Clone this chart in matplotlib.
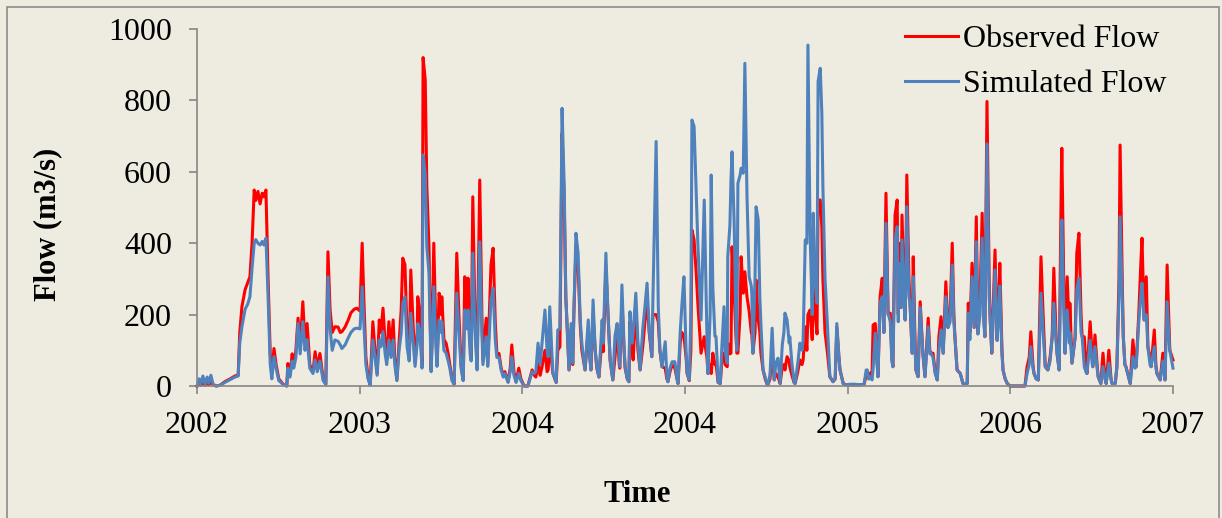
import matplotlib
matplotlib.use("Agg")
import matplotlib.pyplot as plt
from matplotlib.patches import Rectangle
import numpy as np

plt.rcParams['font.family'] = ['Liberation Serif', 'DejaVu Serif']

# days since 2002-01-01
day = [
    0, 4, 7, 11, 15, 19, 22, 26, 30, 36, 43, 52, 62, 71, 77, 80, 84, 90, 95, 99,
    103, 107, 110, 114, 118, 122, 125, 129, 133, 137, 140, 144, 148, 153, 161, 168, 170, 174, 178, 181,
    185, 189, 193, 198, 202, 206, 211, 217, 221, 225, 230, 236, 241, 245, 249, 253, 258, 264, 268, 271,
    277, 283, 288, 294, 299, 305, 309, 312, 316, 320, 324,
    329, 333, 337, 341, 344, 348, 352, 355, 359, 363, 367, 370, 374, 378, 382, 385, 389, 393, 397, 400,
    404, 408, 412, 413, 417, 421, 423, 427, 430, 434, 438, 440, 443, 447, 449, 453, 457, 458, 462, 466,
    470, 473, 477, 481, 486, 490, 494, 498, 501, 505, 507, 511, 513, 516, 520, 524, 529, 533, 535, 541,
    544, 550, 554, 558, 561, 565, 569, 573, 576, 582, 586, 589, 593, 597, 602, 606, 612, 619, 627,
    631, 634, 638, 642, 645, 651, 655, 657, 660, 664, 666, 672, 675, 679, 683, 687, 690, 692, 696, 700,
    703, 705, 709, 713, 717, 720, 722, 726, 732, 735, 737, 741, 745, 748, 752, 758, 760, 765, 769, 773,
    778, 782, 786, 790, 791, 795, 799, 801, 805, 808, 810, 814, 816, 821, 825, 829, 834, 838, 842, 846,
    851, 853, 859, 863, 866, 870, 876, 879, 881, 885, 889, 894, 898, 900, 904, 907, 911, 915, 917, 921,
    924, 926, 930, 934, 937, 943,
    949, 952, 954, 956, 960, 962, 965, 969, 971, 975, 979, 982, 986, 988, 992, 993, 997, 999, 1001, 1005,
    1008, 1010, 1012, 1016, 1018, 1022, 1025, 1029, 1033, 1037, 1038, 1040, 1044, 1046, 1050, 1053, 1055, 1059, 1063, 1066,
    1068, 1072, 1076, 1080, 1083, 1087, 1091, 1095, 1098, 1100, 1104, 1108, 1109, 1113, 1117, 1119, 1124, 1128, 1132, 1134,
    1138, 1141, 1143, 1147, 1151, 1153, 1156, 1160, 1162, 1166, 1169, 1171, 1175, 1179, 1184, 1190, 1194, 1197, 1201, 1203,
    1209, 1214, 1222, 1231, 1240, 1248, 1252, 1254, 1257, 1259,
    1263, 1265, 1269, 1272, 1274, 1278, 1282, 1285, 1289, 1293, 1297, 1300, 1302, 1306, 1310, 1312, 1313, 1317, 1319, 1323,
    1325, 1328, 1332, 1334, 1338, 1340, 1343, 1345, 1349, 1353, 1356, 1358, 1362, 1368, 1371, 1373, 1377, 1381, 1385, 1388,
    1392, 1396, 1401, 1405, 1409, 1413, 1416, 1418, 1422, 1428, 1433, 1441, 1443, 1446, 1450, 1454, 1458, 1461, 1465, 1469,
    1472, 1474, 1478, 1482, 1484, 1487, 1493, 1497, 1499, 1502, 1506, 1508, 1512, 1516, 1521, 1530, 1540, 1549, 1553, 1557,
    1560, 1564, 1566, 1570, 1574, 1579,
    1583, 1587, 1592, 1596, 1600, 1603, 1607, 1609, 1613, 1617, 1618, 1622, 1624, 1628, 1632, 1633, 1637, 1643, 1646, 1650,
    1654, 1656, 1660, 1663, 1665, 1671, 1675, 1676, 1680, 1684, 1686, 1691, 1695, 1699, 1701, 1706, 1710, 1712, 1718, 1721,
    1725, 1727, 1731, 1733, 1736, 1738, 1746, 1751, 1755, 1757, 1762, 1766, 1768, 1772, 1776, 1779, 1783, 1785, 1791, 1794,
    1796, 1802, 1807, 1811, 1815, 1819, 1820, 1826,
]

observed = [
    0, 5, 2, 8, 2, 10, 3, 12, 3, 0, 2, 12, 20, 28, 30, 150, 222, 270, 290, 306,
    400, 549, 520, 545, 510, 540, 530, 549, 300, 90, 40, 105, 60, 20, 5, 0, 63, 30, 90, 60,
    100, 190, 110, 236, 120, 175, 60, 40, 96, 50, 91, 20, 5, 376, 213, 150, 166, 165, 150, 152,
    165, 185, 205, 215, 218, 210, 400, 250, 80, 25, 3,
    180, 100, 35, 185, 150, 218, 120, 73, 180, 100, 185, 80, 17, 120, 213, 358, 340, 150, 82, 325,
    180, 64, 150, 250, 204, 60, 920, 857, 558, 390, 45, 150, 400, 150, 64, 260, 200, 250, 130, 120,
    90, 60, 20, 5, 372, 200, 60, 17, 306, 200, 302, 120, 82, 530, 200, 54, 577, 200, 73, 190,
    64, 339, 386, 180, 92, 91, 50, 30, 40, 12, 50, 115, 40, 12, 50, 20, 0, 0, 45,
    30, 25, 64, 30, 50, 100, 40, 45, 130, 60, 35, 10, 100, 110, 708, 520, 250, 180, 45, 160,
    60, 200, 390, 340, 170, 100, 82, 45, 160, 80, 45, 200, 100, 50, 25, 140, 96, 330, 200, 70,
    17, 80, 160, 60, 50, 240, 100, 50, 20, 12, 180, 100, 73, 220, 100, 45, 110, 180, 240, 150,
    82, 200, 200, 180, 100, 54, 50, 20, 12, 40, 60, 50, 20, 7, 120, 150, 140, 80, 35, 15,
    100, 437, 409, 316, 232, 92,
    138, 100, 82, 35, 60, 35, 92, 60, 64, 10, 7, 73, 92, 60, 54, 120, 90, 92, 390, 260,
    150, 92, 92, 200, 362, 260, 320, 250, 210, 150, 146, 92, 150, 297, 185, 150, 92, 45, 20, 7,
    3, 20, 92, 17, 35, 26, 7, 54, 60, 45, 82, 70, 54, 30, 10, 7, 40, 73, 60, 73,
    166, 100, 200, 213, 130, 288, 210, 146, 521, 521, 446, 300, 150, 100, 26, 12, 20, 165, 80, 45,
    7, 3, 3, 3, 3, 5, 30, 40, 20, 35,
    40, 171, 175, 80, 26, 250, 302, 150, 540, 200, 204, 80, 54, 479, 521, 200, 400, 220, 479, 250,
    185, 591, 300, 230, 92, 362, 150, 45, 26, 236, 150, 92, 26, 190, 100, 92, 92, 40, 17, 138,
    194, 92, 292, 164, 200, 400, 200, 138, 45, 35, 7, 7, 232, 150, 344, 164, 474, 146, 250, 484,
    200, 138, 797, 300, 185, 92, 381, 128, 200, 344, 100, 45, 20, 7, 0, 0, 0, 0, 54, 80,
    152, 60, 35, 20, 17, 362,
    200, 54, 45, 80, 138, 330, 150, 92, 45, 577, 666, 250, 92, 306, 150, 232, 64, 138, 372, 428,
    200, 138, 138, 60, 35, 180, 80, 54, 143, 60, 26, 7, 92, 20, 7, 100, 20, 7, 7, 54,
    300, 675, 300, 138, 60, 54, 7, 129, 60, 54, 204, 350, 414, 185, 306, 110, 80, 54, 157, 60,
    35, 17, 92, 17, 339, 150, 100, 73,
]

simulated = [
    0, 20, 5, 28, 5, 25, 8, 30, 5, 0, 2, 10, 18, 25, 28, 120, 166, 215, 230, 250,
    330, 400, 410, 400, 395, 405, 395, 414, 250, 60, 20, 82, 50, 15, 5, 0, 50, 25, 70, 50,
    80, 175, 90, 180, 100, 130, 50, 35, 73, 40, 70, 15, 5, 306, 160, 100, 129, 125, 115, 105,
    115, 135, 150, 160, 162, 160, 278, 180, 60, 20, 3,
    129, 80, 30, 129, 110, 152, 90, 60, 129, 80, 129, 60, 15, 100, 148, 232, 250, 110, 70, 204,
    130, 55, 120, 175, 150, 50, 647, 596, 390, 316, 40, 120, 278, 110, 55, 185, 150, 180, 100, 92,
    70, 50, 15, 5, 260, 150, 50, 15, 213, 160, 213, 90, 70, 372, 160, 45, 404, 150, 60, 138,
    55, 241, 274, 130, 80, 80, 45, 25, 35, 10, 40, 82, 30, 10, 35, 15, 0, 0, 40,
    35, 40, 120, 60, 110, 213, 100, 82, 222, 90, 35, 10, 157, 160, 778, 558, 250, 185, 45, 175,
    64, 200, 428, 372, 185, 120, 92, 45, 185, 80, 45, 241, 100, 54, 26, 185, 120, 372, 200, 72,
    17, 140, 175, 80, 54, 283, 110, 54, 20, 12, 208, 120, 150, 260, 120, 45, 160, 222, 288, 160,
    82, 246, 685, 222, 100, 54, 124, 30, 12, 50, 68, 68, 20, 7, 150, 222, 306, 100, 35, 17,
    200, 745, 727, 540, 400, 185,
    521, 300, 146, 35, 200, 591, 278, 140, 138, 10, 7, 110, 222, 100, 64, 362, 450, 577, 656, 456,
    200, 100, 568, 590, 610, 596, 904, 530, 306, 280, 260, 92, 300, 502, 465, 250, 175, 45, 25, 7,
    3, 30, 162, 17, 64, 78, 7, 115, 150, 204, 185, 120, 138, 64, 10, 7, 64, 120, 100, 128,
    409, 400, 955, 428, 200, 484, 297, 232, 853, 890, 764, 558, 300, 185, 26, 12, 20, 175, 80, 45,
    7, 3, 5, 5, 3, 5, 45, 45, 20, 26,
    17, 50, 148, 70, 26, 232, 250, 150, 456, 204, 180, 70, 54, 409, 446, 180, 344, 222, 409, 220,
    185, 502, 250, 232, 92, 306, 120, 45, 26, 220, 140, 92, 26, 166, 90, 92, 80, 35, 17, 100,
    157, 92, 250, 164, 180, 339, 180, 138, 45, 35, 7, 7, 204, 130, 306, 164, 404, 146, 200, 414,
    180, 138, 678, 250, 185, 92, 325, 128, 180, 280, 90, 45, 20, 7, 0, 0, 0, 0, 35, 60,
    110, 50, 35, 20, 17, 260,
    150, 54, 45, 70, 138, 232, 130, 92, 45, 409, 465, 200, 92, 213, 120, 150, 64, 138, 270, 302,
    150, 138, 54, 40, 35, 128, 60, 54, 110, 50, 26, 7, 54, 20, 7, 64, 20, 7, 7, 54,
    250, 474, 250, 138, 60, 54, 7, 82, 50, 54, 180, 260, 288, 185, 200, 110, 60, 54, 110, 50,
    35, 17, 70, 17, 236, 120, 100, 50,
]

year_labels = ['2002', '2003', '2004', '2004', '2005', '2006', '2007']

bg = '#EEEBE0'
axis_grey = '#868686'

fig = plt.figure(figsize=(12.22, 5.18), dpi=100, facecolor=bg)
ax = fig.add_axes([197 / 1222, 1 - 386 / 518, 976 / 1222, 357 / 518])
ax.set_facecolor(bg)

ax.plot(day, observed, color='#FF0000', lw=2.2, label='Observed Flow', clip_on=False)
ax.plot(day, simulated, color='#4F81BD', lw=2.2, label='Simulated Flow', clip_on=False)

ax.set_xlim(0, 1826)
ax.set_ylim(0, 1000)
ax.set_yticks(np.arange(0, 1001, 200))
ax.set_xticks(np.linspace(0, 1826, len(year_labels)))
ax.set_xticklabels(year_labels)

for s in ['top', 'right']:
    ax.spines[s].set_visible(False)
for s in ['left', 'bottom']:
    ax.spines[s].set_color(axis_grey)
    ax.spines[s].set_linewidth(1.2)

ax.tick_params(axis='both', direction='out', length=6, width=1.2, color=axis_grey, labelsize=23)
ax.tick_params(axis='y', pad=12)
ax.tick_params(axis='x', pad=12)

fig.text(48 / 1222, 1 - 224 / 518, 'Flow (m3/s)', rotation=90, fontsize=22,
         fontweight='bold', ha='center', va='center')
fig.text(637 / 1222, 1 - 495 / 518, 'Time', fontsize=22, fontweight='bold',
         ha='center', va='center')

ax.legend(loc='upper left', bbox_to_anchor=(905 / 1222, 1 - 25 / 518),
          bbox_transform=fig.transFigure, frameon=False, fontsize=23,
          handlelength=1.65, handletextpad=0.16, borderpad=0, borderaxespad=0,
          labelspacing=0.48)

# chart border
fig.patches.append(Rectangle((7 / 1222, -0.02), 1212 / 1222, 1 - 7 / 518 + 0.02,
                             transform=fig.transFigure, fill=False,
                             edgecolor='#8C8C8C', lw=1.2))

fig.savefig('out.png', dpi=100, facecolor=bg)
